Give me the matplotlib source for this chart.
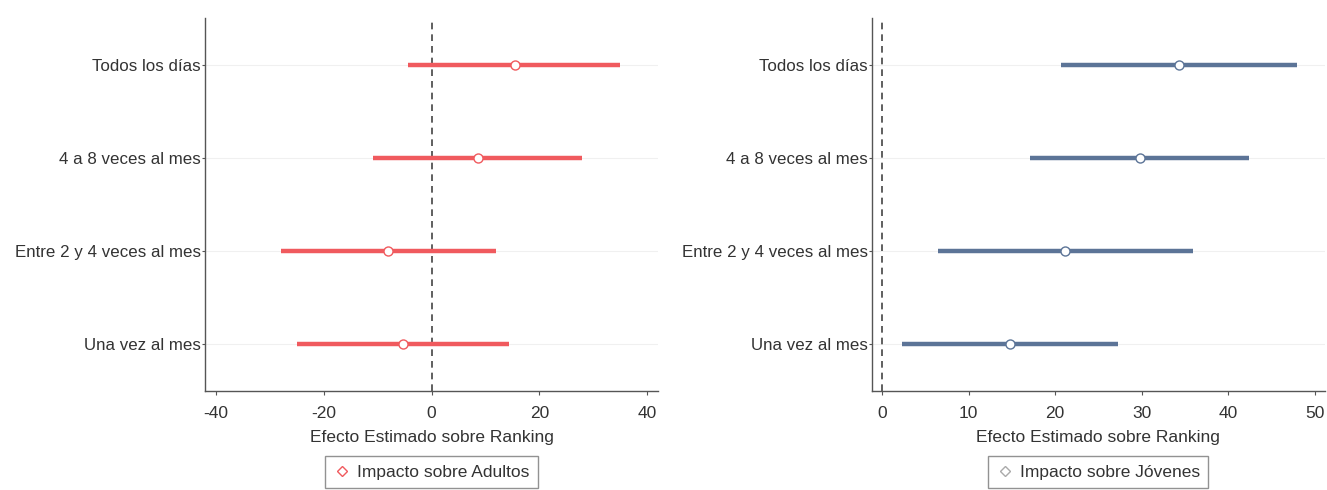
import matplotlib
matplotlib.use("Agg")
import matplotlib.pyplot as plt
from matplotlib.lines import Line2D

plt.rcParams['font.family'] = ['Liberation Sans', 'DejaVu Sans']
plt.rcParams['axes.unicode_minus'] = False

categories = ["Todos los días", "4 a 8 veces al mes", "Entre 2 y 4 veces al mes", "Una vez al mes"]

adult_est = [15.4, 8.6, -8.0, -5.3]
adult_lo = [-4.4, -10.9, -28.0, -24.9]
adult_hi = [34.9, 27.9, 11.9, 14.4]

young_est = [34.3, 29.8, 21.1, 14.8]
young_lo = [20.7, 17.1, 6.5, 2.3]
young_hi = [48.0, 42.4, 36.0, 27.3]

left_ticks = [-40, -20, 0, 20, 40]
right_ticks = [0, 10, 20, 30, 40, 50]

xlabel = "Efecto Estimado sobre Ranking"
legend_left = "Impacto sobre Adultos"
legend_right = "Impacto sobre Jóvenes"

red = "#F05A5E"
blue = "#5C7497"
txt = "#333333"
FS = 12.5
FSY = 12.2

fig = plt.figure(figsize=(13.27, 4.9), dpi=100)
ax1 = fig.add_axes([0.1545, 0.202, 0.3414, 0.761])
ax2 = fig.add_axes([0.657, 0.202, 0.3414, 0.761])


def panel(ax, est, lo, hi, color, ticks, xlim, legtxt, legcolor):
    ypos = list(range(1, len(categories) + 1))
    for y in ypos:
        ax.axhline(y, color="#f0f0f0", lw=0.8, zorder=0)
    ax.axvline(0, color="#444444", lw=1.2, ls=(0, (4, 3)), zorder=1)
    ax.hlines(ypos, lo, hi, color=color, lw=3.2, zorder=2)
    ax.plot(est, ypos, 'o', ms=6.5, mfc="white", mec=color, mew=1.0, zorder=3)
    ax.set_yticks(ypos)
    ax.set_yticklabels(categories)
    ax.set_ylim(4.5, 0.5)
    ax.set_xlim(*xlim)
    ax.set_xticks(ticks)
    ax.set_xlabel(xlabel, fontsize=FS, color=txt, labelpad=6)
    for s in ["top", "right"]:
        ax.spines[s].set_visible(False)
    for s in ["left", "bottom"]:
        ax.spines[s].set_color("#555555")
        ax.spines[s].set_linewidth(1.0)
    ax.tick_params(axis='x', labelsize=FS, labelcolor=txt, color="#555555", width=0.8,
                   length=3, pad=8)
    ax.tick_params(axis='y', labelsize=FSY, labelcolor=txt, color="#555555", width=0.8,
                   length=2, pad=1)
    handle = Line2D([], [], marker='D', ls='none', ms=5, mfc='white', mec=legcolor, mew=1.0)
    leg = ax.legend([handle], [legtxt], loc='upper center', bbox_to_anchor=(0.5, -0.174),
                    frameon=True, fancybox=False, fontsize=FS, handletextpad=0.4,
                    borderpad=0.5, handlelength=0.9, borderaxespad=0)
    leg.get_frame().set_edgecolor("#777777")
    leg.get_frame().set_linewidth(1.0)
    for t in leg.get_texts():
        t.set_color(txt)


panel(ax1, adult_est, adult_lo, adult_hi, red, left_ticks, (-42, 42), legend_left, red)
panel(ax2, young_est, young_lo, young_hi, blue, right_ticks, (-1.2, 51.2), legend_right, "#aaaaaa")

fig.savefig("out.png", dpi=100, facecolor="white")
